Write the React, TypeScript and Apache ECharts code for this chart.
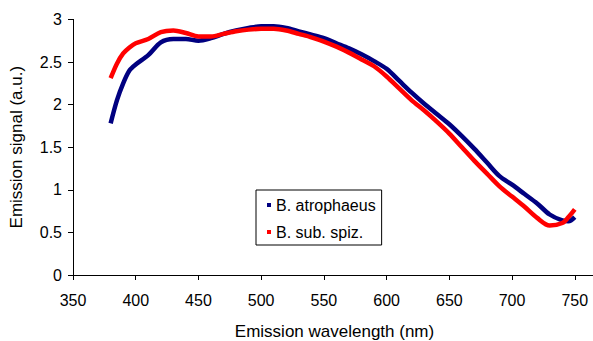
import React, { useEffect, useRef } from "react";
import * as echarts from "echarts";

const wavelengths = [380, 385, 390, 395, 400, 410, 420, 430, 440, 450, 460, 470, 480, 490, 500, 510, 520, 530, 540, 550, 560, 570, 580, 590, 600, 610, 620, 630, 640, 650, 660, 670, 680, 690, 700, 710, 720, 730, 740, 745, 750];
const atrophaeus = [1.78, 2.05, 2.25, 2.4, 2.47, 2.58, 2.73, 2.77, 2.77, 2.75, 2.78, 2.83, 2.87, 2.9, 2.92, 2.92, 2.9, 2.86, 2.82, 2.78, 2.72, 2.66, 2.59, 2.51, 2.42, 2.28, 2.14, 2.01, 1.89, 1.77, 1.63, 1.48, 1.32, 1.16, 1.06, 0.95, 0.84, 0.71, 0.64, 0.63, 0.68];
const subSpiz = [2.31, 2.48, 2.6, 2.67, 2.72, 2.77, 2.85, 2.87, 2.84, 2.8, 2.8, 2.83, 2.86, 2.88, 2.89, 2.89, 2.87, 2.83, 2.79, 2.74, 2.68, 2.61, 2.53, 2.45, 2.33, 2.19, 2.05, 1.93, 1.8, 1.66, 1.5, 1.34, 1.19, 1.04, 0.92, 0.8, 0.67, 0.58, 0.61, 0.68, 0.77];
const seriesNames = ["B. atrophaeus", "B. sub. spiz."];
const xTitle = "Emission wavelength (nm)";
const yTitle = "Emission signal (a.u.)";

const FONT = "'Liberation Sans', Arial, sans-serif";

export default function App() {
  const ref = useRef<HTMLDivElement>(null);
  useEffect(() => {
    if (!ref.current) return;
    const chart = echarts.init(ref.current, undefined, { renderer: "svg" });
    const toPairs = (ys: number[]) => wavelengths.map((x, i) => [x, ys[i]]);
    chart.setOption({
      animation: false,
      backgroundColor: "#ffffff",
      textStyle: { fontFamily: FONT },
      grid: { left: 73, top: 19.4, right: 6.5, bottom: 66, containLabel: false },
      legend: {
        orient: "vertical",
        left: 256,
        top: 190,
        padding: [6, 6, 4, 11],
        itemGap: 9,
        itemWidth: 4,
        itemHeight: 4,
        borderColor: "#000",
        borderWidth: 1,
        backgroundColor: "#fff",
        icon: "rect",
        textStyle: { fontSize: 16, color: "#000", fontFamily: FONT, lineHeight: 18 },
        data: seriesNames,
      },
      xAxis: {
        type: "value",
        min: 350,
        max: 800,
        interval: 50,
        axisLine: { show: true, lineStyle: { color: "#000", width: 1 } },
        axisTick: { show: true, inside: false, length: 5, lineStyle: { color: "#000" } },
        splitLine: { show: false },
        axisLabel: { fontSize: 16, color: "#000", margin: 17, fontFamily: FONT, showMaxLabel: false },
      },
      yAxis: {
        type: "value",
        min: 0,
        max: 3,
        interval: 0.5,
        name: yTitle,
        nameLocation: "middle",
        nameGap: 48,
        nameTextStyle: { fontSize: 17, color: "#000", fontFamily: FONT },
        axisLine: { show: true, lineStyle: { color: "#000", width: 1 } },
        axisTick: { show: true, inside: false, length: 5, lineStyle: { color: "#000" } },
        splitLine: { show: false },
        axisLabel: { fontSize: 16, color: "#000", margin: 11, fontFamily: FONT },
      },
      graphic: [
        {
          type: "text",
          x: 334.5,
          y: 323,
          style: { text: xTitle, fontSize: 17, fill: "#000", fontFamily: FONT, align: "center", verticalAlign: "top" },
        },
      ],
      series: [
        {
          name: seriesNames[0],
          type: "line",
          data: toPairs(atrophaeus),
          smooth: 0.3,
          symbol: "none",
          itemStyle: { color: "#000080" },
          lineStyle: { color: "#000080", width: 4.5 },
        },
        {
          name: seriesNames[1],
          type: "line",
          data: toPairs(subSpiz),
          smooth: 0.3,
          symbol: "none",
          itemStyle: { color: "#ff0000" },
          lineStyle: { color: "#ff0000", width: 4.5 },
        },
      ],
    });
    return () => chart.dispose();
  }, []);
  return (
    <div style={{ width: 593, height: 341, position: "absolute", left: 0, top: 0, overflow: "hidden", background: "#fff" }}>
      <div ref={ref} style={{ width: 644, height: 341 }} />
    </div>
  );
}
